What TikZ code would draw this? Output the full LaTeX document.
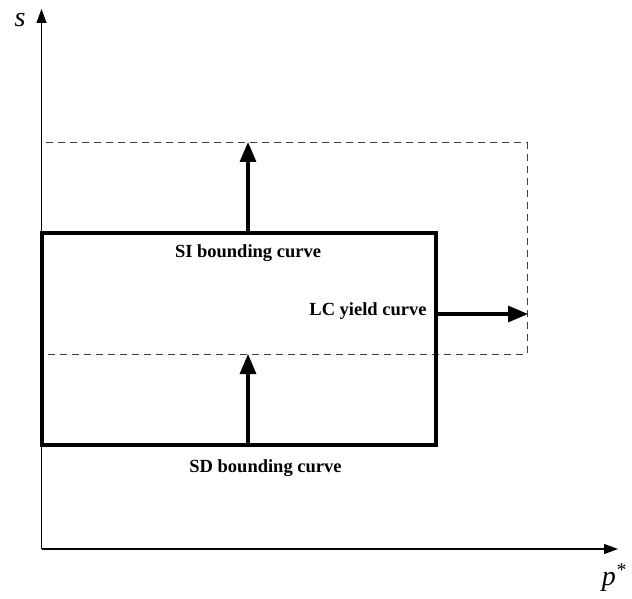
\documentclass[tikz,border=0pt]{standalone}
\usepackage{fontspec}
\setmainfont{Liberation Serif}
\usetikzlibrary{arrows.meta}
\begin{document}
\begin{tikzpicture}[x=1pt,y=-1pt,
  axis/.style={line width=1.1pt,-{Triangle[length=14pt,width=10pt]}},
  bold/.style={line width=3.2pt},
  dsh/.style={line width=1pt,dash pattern=on 7pt off 5pt,black!75},
  push/.style={line width=3.2pt,-{Triangle[length=20pt,width=16pt]}},
  lab/.style={font=\fontsize{18.5}{20}\selectfont\bfseries,inner sep=0pt},
  axlab/.style={font=\fontsize{28}{30}\selectfont\itshape,inner sep=0pt}]
\useasboundingbox (0,0) rectangle (632,599);
\coordinate (O) at (41.5,549);
\coordinate (Ytop) at (41.5,9);
\coordinate (Xend) at (618,549);
\draw[axis] (O) -- (Ytop);
\draw[axis] (O) -- (Xend);
\node[axlab] (s) at (20,20) {s};
\node[axlab] (p) at (614,578) {p\textsuperscript{*}};
% dashed rectangle
\draw[dsh] (46,143) -- (527,143) -- (527,354) -- (46,354);
% solid rectangle
\draw[bold] (42,233) rectangle (436,445);
% arrows
\coordinate (a1s) at (248,233);
\coordinate (a1e) at (248,142);
\coordinate (a2s) at (248,445);
\coordinate (a2e) at (248,354);
\coordinate (a3s) at (436,314);
\coordinate (a3e) at (528,314);
\draw[push] (a1s) -- (a1e);
\draw[push] (a2s) -- (a2e);
\draw[push] (a3s) -- (a3e);
\node[lab] (si) at (248,253) {SI bounding curve};
\node[lab] (lc) at (368,311) {LC yield curve};
\node[lab] (sd) at (265.5,468) {SD bounding curve};
\end{tikzpicture}
\end{document}
